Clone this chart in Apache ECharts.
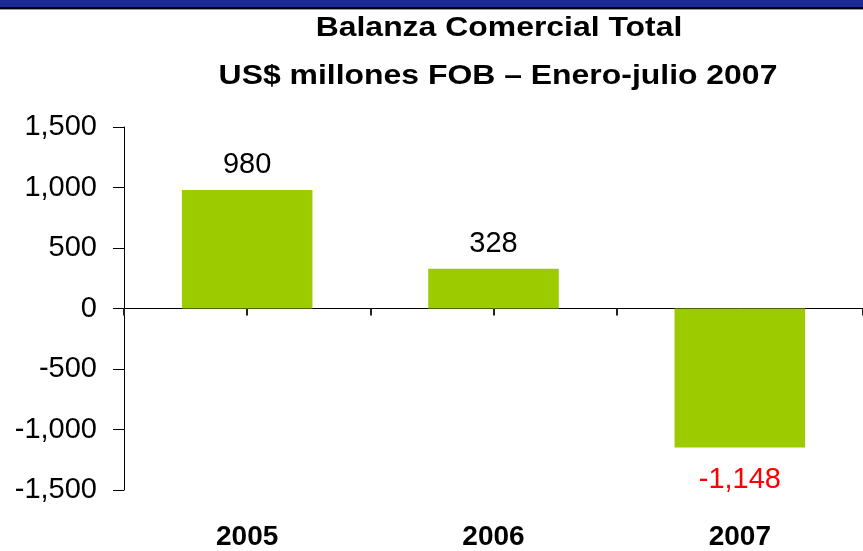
<!DOCTYPE html>
<html>
<head>
<meta charset="utf-8">
<script src="https://cdn.jsdelivr.net/npm/echarts@6/dist/echarts.min.js"></script>
<style>
html,body{margin:0;padding:0;background:#fff;}
#main{width:863px;height:551px;}
</style>
</head>
<body>
<div id="main"></div>
<script>
const titleLines = ['Balanza Comercial Total', 'US$ millones FOB – Enero-julio 2007'];
const categories = ['2005', '2006', '2007'];
const values = [980, 328, -1148];
const yTicks = { min: -1500, max: 1500, interval: 500 };
const tickSlots = ['', '', '', '', '', ''];

function fmt(v) { return Number(v).toLocaleString('en-US'); }

const chart = echarts.init(document.getElementById('main'), null, { renderer: 'canvas' });
const font = 'Liberation Sans, Arial, sans-serif';

chart.setOption({
  animation: false,
  backgroundColor: '#ffffff',
  graphic: [
    { type: 'rect', left: 0, top: 0, shape: { width: 863, height: 7 }, style: { fill: '#1b2a97' }, silent: true },
    { type: 'rect', left: 0, top: 7, shape: { width: 863, height: 2 }, style: { fill: '#000' }, silent: true },
    { type: 'rect', left: 0, top: 9, shape: { width: 863, height: 1 }, style: { fill: '#999' }, silent: true },
    { type: 'text', x: 499, y: 28, scaleX: 1.14, silent: true,
      style: { text: titleLines[0], font: 'bold 28px Liberation Sans, Arial, sans-serif', fill: '#000', textAlign: 'center', textVerticalAlign: 'middle' } },
    { type: 'text', x: 498, y: 76, scaleX: 1.14, silent: true,
      style: { text: titleLines[1], font: 'bold 28px Liberation Sans, Arial, sans-serif', fill: '#000', textAlign: 'center', textVerticalAlign: 'middle' } }
  ],
  grid: { left: 124, top: 127, width: 742, height: 367, containLabel: false },
  xAxis: [
    {
      type: 'category',
      data: tickSlots,
      boundaryGap: true,
      axisLine: { show: true, onZero: true, lineStyle: { color: '#000', width: 1 } },
      axisTick: { show: true, length: 7, lineStyle: { color: '#222', width: 2 } },
      axisLabel: { show: false },
      splitLine: { show: false }
    },
    {
      type: 'category',
      position: 'bottom',
      data: categories,
      axisLine: { show: false, onZero: false },
      axisTick: { show: false },
      axisLabel: { show: true, margin: 33, fontFamily: font, fontSize: 28, fontWeight: 'bold', color: '#000' },
      splitLine: { show: false }
    }
  ],
  yAxis: {
    type: 'value',
    min: yTicks.min,
    max: yTicks.max,
    interval: yTicks.interval,
    axisLine: { show: true, lineStyle: { color: '#000', width: 1 } },
    axisTick: { show: true, inside: false, length: 11, lineStyle: { color: '#000', width: 1 } },
    axisLabel: { margin: 27, fontFamily: font, fontSize: 29, color: '#000', formatter: fmt },
    splitLine: { show: false }
  },
  series: [{
    type: 'bar',
    xAxisIndex: 1,
    barWidth: '53%',
    data: values.map(v => ({
      value: v,
      label: { color: v < 0 ? '#ff0000' : '#000', distance: v < 0 ? 18 : 10 }
    })),
    itemStyle: { color: '#9ccc00' },
    label: {
      show: true,
      position: 'outside',
      distance: 10,
      fontFamily: font,
      fontSize: 29,
      formatter: p => fmt(p.value)
    }
  }]
});
</script>
</body>
</html>
